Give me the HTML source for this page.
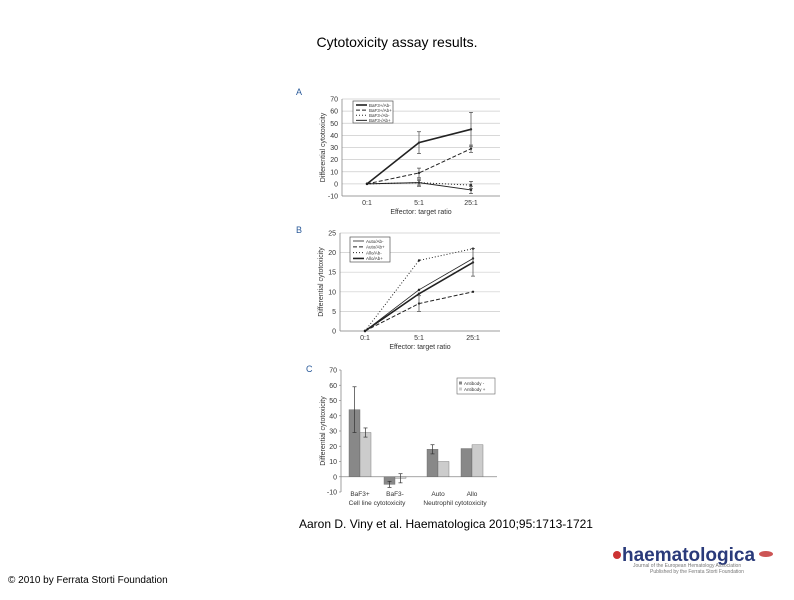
<!DOCTYPE html>
<html><head><meta charset="utf-8"><style>
body{margin:0;background:#fff;width:794px;height:595px;overflow:hidden;font-family:"Liberation Sans",sans-serif}
svg text{font-family:"Liberation Sans",sans-serif}
</style></head><body>
<svg id="s" width="794" height="595" viewBox="0 0 794 595" xmlns="http://www.w3.org/2000/svg">
<text x="397" y="47" font-size="14" text-anchor="middle" fill="#000">Cytotoxicity assay results.</text>
<text x="446" y="528" font-size="12" text-anchor="middle" fill="#000">Aaron D. Viny et al. Haematologica 2010;95:1713-1721</text>
<text x="8" y="583" font-size="10" fill="#000">© 2010 by Ferrata Storti Foundation</text>
<g>
<circle cx="617" cy="555" r="4" fill="#c33"/>
<text x="622" y="561" font-size="19" font-weight="bold" fill="#2a3a7a">haematologica</text>
<text x="633" y="567" font-size="5" fill="#777">Journal of the European Hematology Association</text>
<text x="650" y="573" font-size="5" fill="#777">Published by the Ferrata Storti Foundation</text>
<ellipse cx="766" cy="554" rx="7" ry="3" fill="#c55"/>
</g>
<g id="pa"></g>
<g id="pb"></g>
<g id="pc"></g>
</svg>
<script>
const NS="http://www.w3.org/2000/svg";
const catsAB=["0:1","5:1","25:1"];
const aTicks=[-10,0,10,20,30,40,50,60,70];
const aSeries1=[0,34,45], aErr1=[0,9,14];
const aSeries2=[0,9,29], aErr2=[0,4,3];
const aSeries3=[0,1,-1], aErr3=[0,3,3];
const aSeries4=[0,1,-5], aErr4=[0,2,3];
const aLegend=["BaF3+/Ab-","BaF3+/Ab+","BaF3-/Ab-","BaF3-/Ab+"];
const bTicks=[0,5,10,15,20,25];
const bSeries1=[0,10.5,18.5];
const bSeries2=[0,7,10], bErr2=[0,2,0];
const bSeries3=[0,18,21], bErr3=[0,0,0];
const bSeries4=[0,9.5,17.5], bErr4=[0,0,3.5];
const bLegend=["Auto/Ab-","Auto/Ab+","Allo/Ab-","Allo/Ab+"];
const cTicks=[-10,0,10,20,30,40,50,60,70];
const cCats=["BaF3+","BaF3-","Auto","Allo"];
const cNeg=[44,-5,18,18.5], cNegErr=[15,2,3,0];
const cPos=[29,-1,10,21], cPosErr=[3,3,0,0];
const cLegend=["Antibody -","Antibody +"];

function el(p,t,a,name){const e=document.createElementNS(NS,t);for(const k in a)e.setAttribute(k,a[k]);


p.appendChild(e);return e;}
function txt(p,x,y,s,fs,anchor,name,rot){const t=el(p,'text',{x:x,y:y,'font-size':fs,'text-anchor':anchor||'middle',fill:'#333'},name);if(rot)t.setAttribute('transform',`rotate(-90 ${x} ${y})`);t.textContent=s;return t;}

function linePanel(g,o){
 const ys=v=>o.y0+(v-o.min)/(o.max-o.min)*(o.y1-o.y0);
 const xs=i=>o.xc[i];
 txt(g,o.lx,o.ly,o.letter,9,'start','panel-letter').setAttribute('fill','#2a5a9a');
 o.ticks.forEach(t=>{const y=ys(t);
  el(g,'line',{x1:o.xl,x2:o.xr,y1:y,y2:y,stroke:'#ccc','stroke-width':0.7},'gridline');
  txt(g,o.xl-4,y+2.5,String(t),7,'end','y-tick-label');});
 el(g,'line',{x1:o.xl,x2:o.xl,y1:ys(o.max),y2:ys(o.min),stroke:'#888','stroke-width':0.8},'y-axis');
 el(g,'line',{x1:o.xl,x2:o.xr,y1:ys(o.min),y2:ys(o.min),stroke:'#888','stroke-width':0.8},'x-axis');
 catsAB.forEach((c,i)=>txt(g,xs(i),ys(o.min)+9,c,7,'middle','x-tick-label'));
 txt(g,(o.xl+o.xr)/2,ys(o.min)+18,'Effector: target ratio',7,'middle','x-axis-title');
 txt(g,o.xl-17,(ys(o.min)+ys(o.max))/2,o.ytitle,7,'middle','y-axis-title',true);
 o.series.forEach((s,k)=>{
  el(g,'polyline',{points:s.v.map((v,i)=>xs(i)+','+ys(v)).join(' '),fill:'none',stroke:'#222','stroke-width':s.w,'stroke-dasharray':s.d},'series-line');
  s.v.forEach((v,i)=>{el(g,'circle',{cx:xs(i),cy:ys(v),r:1.2,fill:'#222'},'data-point');
   const e=s.e?s.e[i]:0; if(e>0){el(g,'line',{x1:xs(i),x2:xs(i),y1:ys(v-e),y2:ys(v+e),stroke:'#444','stroke-width':0.7},'error-bar');
    [v-e,v+e].forEach(q=>el(g,'line',{x1:xs(i)-2,x2:xs(i)+2,y1:ys(q),y2:ys(q),stroke:'#444','stroke-width':0.7},'error-cap'));}});
 });
 const L=o.leg;
 el(g,'rect',{x:L[0],y:L[1],width:L[2],height:L[3],fill:'#fff',stroke:'#555','stroke-width':0.7},'legend-box');
 o.legend.forEach((n,i)=>{const y=L[1]+4+i*L[3]/4.3;const s=o.series[i];
  el(g,'line',{x1:L[0]+3,x2:L[0]+14,y1:y,y2:y,stroke:'#222','stroke-width':s.w,'stroke-dasharray':s.d},'legend-swatch');
  txt(g,L[0]+16,y+1.8,n,4.5,'start','legend-entry');});
}
linePanel(document.getElementById('pa'),{letter:'A',lx:296,ly:95,min:-10,max:70,y0:196,y1:99,xl:342,xr:500,xc:[367,419,471],ticks:aTicks,ytitle:'Differential cytotoxicity',
 series:[{v:aSeries1,e:aErr1,w:1.6,d:''},{v:aSeries2,e:aErr2,w:1,d:'4,2'},{v:aSeries3,e:aErr3,w:1,d:'1,2'},{v:aSeries4,e:aErr4,w:1,d:''}],legend:aLegend,leg:[353,101,40,22]});
linePanel(document.getElementById('pb'),{letter:'B',lx:296,ly:233,min:0,max:25,y0:331,y1:233,xl:340,xr:500,xc:[365,419,473],ticks:bTicks,ytitle:'Differential cytotoxicity',
 series:[{v:bSeries1,e:null,w:0.8,d:''},{v:bSeries2,e:bErr2,w:1,d:'4,2'},{v:bSeries3,e:bErr3,w:1,d:'1,2'},{v:bSeries4,e:bErr4,w:1.6,d:''}],legend:bLegend,leg:[350,237,40,25]});

(function(){
 const g=document.getElementById('pc');
 const ys=v=>492+(v+10)/80*(370-492);
 txt(g,306,372,'C',9,'start','panel-letter').setAttribute('fill','#2a5a9a');
 el(g,'line',{x1:341,x2:341,y1:ys(70),y2:ys(-10),stroke:'#888','stroke-width':0.8},'y-axis');
 cTicks.forEach(t=>{txt(g,337,ys(t)+2.5,String(t),7,'end','y-tick-label');
  el(g,'line',{x1:339,x2:341,y1:ys(t),y2:ys(t),stroke:'#888','stroke-width':0.7},'y-tick');});
 el(g,'line',{x1:341,x2:497,y1:ys(0),y2:ys(0),stroke:'#888','stroke-width':0.8},'x-axis');
 txt(g,325,431,'Differential cytotoxicity',7,'middle','y-axis-title',true);
 const cx=[360,395,438,472],bw=11;
 cCats.forEach((c,i)=>{
  [[cNeg,cNegErr,'#888',-1,'bar-antibody-neg'],[cPos,cPosErr,'#ccc',0,'bar-antibody-pos']].forEach(([vals,errs,col,off,nm])=>{
   const v=vals[i],x=cx[i]+off*bw;
   el(g,'rect',{x:x,y:Math.min(ys(v),ys(0)),width:bw,height:Math.abs(ys(v)-ys(0)),fill:col,stroke:'#666','stroke-width':0.4},nm);
   const e=errs[i];if(e>0){const m=x+bw/2;
    el(g,'line',{x1:m,x2:m,y1:ys(v-e),y2:ys(v+e),stroke:'#333','stroke-width':0.7},'error-bar');
    [v-e,v+e].forEach(q=>el(g,'line',{x1:m-2,x2:m+2,y1:ys(q),y2:ys(q),stroke:'#333','stroke-width':0.7},'error-cap'));}
  });
  txt(g,cx[i],ys(-10)+4,c,6.5,'middle','x-tick-label');
 });
 txt(g,377,505,'Cell line cytotoxicity',6.5,'middle','group-label');
 txt(g,455,505,'Neutrophil cytotoxicity',6.5,'middle','group-label');
 el(g,'rect',{x:457,y:378,width:38,height:16,fill:'#fff',stroke:'#666','stroke-width':0.6},'legend-box');
 cLegend.forEach((n,i)=>{const y=384+i*6;
  el(g,'rect',{x:459,y:y-2.5,width:3,height:3,fill:i?'#ccc':'#888'},'legend-swatch');
  txt(g,464,y+1,n,4.5,'start','legend-entry');});
})();
</script>
</body></html>
